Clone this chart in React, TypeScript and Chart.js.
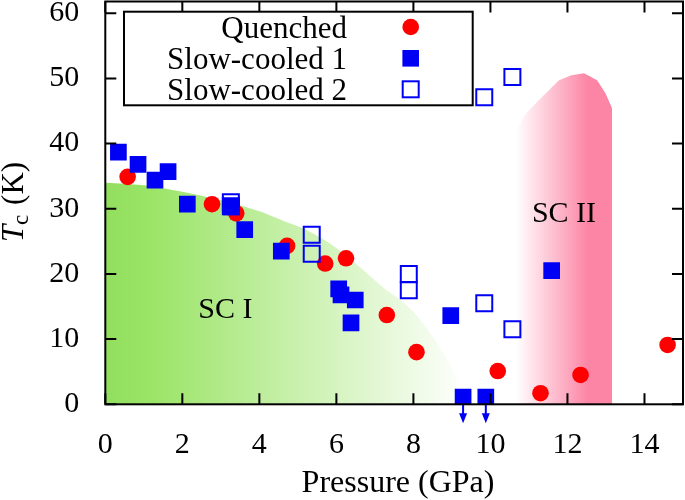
import React, { useEffect, useRef } from 'react';
import { Chart, registerables } from 'chart.js';

Chart.register(...registerables);

const FONT = "'Liberation Serif', 'Times New Roman', serif";

// Axis ticks
const xTickValues = [0, 2, 4, 6, 8, 10, 12, 14];
const yTickValues = [0, 10, 20, 30, 40, 50, 60];

// Series
const seriesLabels = ['Quenched', 'Slow-cooled 1', 'Slow-cooled 2'];

const quenchedP = [0.58, 2.77, 3.40, 4.72, 5.71, 6.25, 7.31, 8.08, 10.19, 11.30, 12.34, 14.60];
const quenchedTc = [34.9, 30.7, 29.3, 24.3, 21.6, 22.4, 13.7, 8.0, 5.1, 1.7, 4.5, 9.1];

const slow1P = [0.34, 0.85, 1.29, 1.63, 2.13, 3.27, 3.62, 4.57, 6.06, 6.12, 6.49, 6.38, 8.97, 9.29, 9.88, 11.59];
const slow1Tc = [38.7, 36.8, 34.4, 35.7, 30.7, 30.3, 26.8, 23.5, 17.7, 16.8, 16.0, 12.5, 13.6, 1.1, 1.1, 20.5];

const slow2P = [3.26, 3.26, 5.36, 5.36, 7.88, 7.88, 9.84, 10.57, 9.84, 10.57];
const slow2Tc = [31.0, 30.4, 26.0, 23.1, 20.0, 17.5, 15.5, 11.5, 47.1, 50.2];

// Upper-limit arrows (points below detection)
const arrowP = [9.29, 9.88];

// SC I region boundary
const scIP = [0, 1, 2, 3, 4, 4.6, 5.2, 5.9, 6.6, 7.2, 7.9, 8.5, 8.93, 9.23, 9.35];
const scITc = [34, 33.6, 32.6, 31.3, 29.6, 28.2, 26.8, 24.4, 21.1, 18.0, 14.8, 10.4, 6.3, 2.2, 0];

// SC II region boundary
const scIIP = [10.66, 10.66, 10.92, 11.26, 11.78, 12.1, 12.43, 12.77, 12.99, 13.16, 13.16];
const scIITc = [0, 42.1, 44.6, 46.7, 49.7, 50.5, 50.8, 49.7, 47.7, 45.4, 0];

const regionNames = ['SC I', 'SC II'];
const regionLabelP = [3.12, 11.91];
const regionLabelTc = [13.2, 28.0];

const zip = (xs: number[], ys: number[]) => xs.map((x, i) => ({ x, y: ys[i] }));

const RED = '#ff0000';
const BLUE = '#0000f5';

// plot frame in canvas pixels
const AREA = { left: 105.3, top: 1.5, right: 683, bottom: 404.3 };

function greenBg(c: any) {
  const chart = c.chart;
  if (!chart.chartArea) return 'rgb(150,226,98)';
  const xs = chart.scales.x;
  const g = chart.ctx.createLinearGradient(xs.getPixelForValue(0), 0, xs.getPixelForValue(9.4), 0);
  g.addColorStop(0, 'rgb(146,222,94)');
  g.addColorStop(0.12, 'rgb(154,228,102)');
  g.addColorStop(1, 'rgb(255,255,255)');
  return g;
}

function pinkBg(c: any) {
  const chart = c.chart;
  if (!chart.chartArea) return 'rgb(252,132,164)';
  const xs = chart.scales.x;
  const g = chart.ctx.createLinearGradient(xs.getPixelForValue(10.66), 0, xs.getPixelForValue(12.55), 0);
  g.addColorStop(0, 'rgb(255,255,255)');
  g.addColorStop(1, 'rgb(252,132,164)');
  return g;
}

function drawMarker(ctx: CanvasRenderingContext2D, kind: number, x: number, y: number) {
  if (kind === 0) {
    ctx.fillStyle = RED;
    ctx.beginPath();
    ctx.arc(x, y, 8.3, 0, Math.PI * 2);
    ctx.fill();
  } else if (kind === 1) {
    ctx.fillStyle = BLUE;
    ctx.fillRect(x - 8.3, y - 8.3, 16.6, 16.6);
  } else {
    ctx.strokeStyle = BLUE;
    ctx.lineWidth = 2;
    ctx.strokeRect(x - 8, y - 8, 16, 16);
  }
}

const overlayPlugin = {
  id: 'overlay',
  afterLayout(chart: any) {
    const a = chart.chartArea;
    a.left = AREA.left;
    a.top = AREA.top;
    a.right = AREA.right;
    a.bottom = AREA.bottom;
    a.width = AREA.right - AREA.left;
    a.height = AREA.bottom - AREA.top;
    const xs = chart.scales.x;
    xs.left = AREA.left;
    xs.right = AREA.right;
    xs.width = AREA.right - AREA.left;
    xs.top = AREA.bottom;
    xs.bottom = chart.height;
    xs.height = chart.height - AREA.bottom;
    xs.configure();
    const ys = chart.scales.y;
    ys.left = 0;
    ys.right = AREA.left;
    ys.width = AREA.left;
    ys.top = AREA.top;
    ys.bottom = AREA.bottom;
    ys.height = AREA.bottom - AREA.top;
    ys.configure();
  },
  afterDatasetsDraw(chart: any) {
    const { ctx, chartArea: a, scales } = chart;
    const xs = scales.x;
    const ys = scales.y;
    ctx.save();

    // arrows
    ctx.strokeStyle = BLUE;
    ctx.fillStyle = BLUE;
    ctx.lineWidth = 2;
    arrowP.forEach((p) => {
      const x = xs.getPixelForValue(p);
      const y0 = ys.getPixelForValue(0);
      ctx.beginPath();
      ctx.moveTo(x, y0);
      ctx.lineTo(x, y0 + 11);
      ctx.stroke();
      ctx.beginPath();
      ctx.moveTo(x - 4, y0 + 9);
      ctx.lineTo(x + 4, y0 + 9);
      ctx.lineTo(x, y0 + 19);
      ctx.closePath();
      ctx.fill();
    });

    // frame
    ctx.strokeStyle = '#000';
    ctx.lineWidth = 2;
    ctx.strokeRect(a.left, a.top, a.right - a.left, a.bottom - a.top);

    // inward ticks on all sides
    const TL = 11;
    ctx.beginPath();
    xTickValues.forEach((v) => {
      const x = xs.getPixelForValue(v);
      ctx.moveTo(x, a.bottom);
      ctx.lineTo(x, a.bottom - TL);
      ctx.moveTo(x, a.top);
      ctx.lineTo(x, a.top + TL);
    });
    yTickValues.forEach((v) => {
      const y = ys.getPixelForValue(v);
      ctx.moveTo(a.left, y);
      ctx.lineTo(a.left + TL, y);
      ctx.moveTo(a.right, y);
      ctx.lineTo(a.right - TL, y);
    });
    ctx.stroke();

    // region labels
    ctx.fillStyle = '#000';
    ctx.font = `30px ${FONT}`;
    ctx.textAlign = 'center';
    ctx.textBaseline = 'alphabetic';
    regionNames.forEach((t, i) => {
      ctx.fillText(t, xs.getPixelForValue(regionLabelP[i]), ys.getPixelForValue(regionLabelTc[i]));
    });

    // legend
    const L = 124, T = 11.7, R = 472.7, B = 105.3;
    ctx.fillStyle = '#fff';
    ctx.fillRect(L, T, R - L, B - T);
    ctx.strokeStyle = '#000';
    ctx.lineWidth = 2;
    ctx.strokeRect(L, T, R - L, B - T);
    const rowY = [27, 58.3, 89.3];
    ctx.font = `31px ${FONT}`;
    ctx.textAlign = 'right';
    ctx.textBaseline = 'alphabetic';
    seriesLabels.forEach((lab, i) => {
      ctx.fillStyle = '#000';
      ctx.fillText(lab, 347, rowY[i] + 10.8);
      drawMarker(ctx, i, 410.7, rowY[i]);
    });

    ctx.restore();
  },
  afterDraw(chart: any) {
    const { ctx } = chart;
    ctx.save();
    ctx.fillStyle = '#000';
    // x title
    ctx.font = `32px ${FONT}`;
    ctx.textAlign = 'center';
    ctx.textBaseline = 'alphabetic';
    ctx.fillText('Pressure (GPa)', 398, 492);

    // y title: T_c (K), rotated
    ctx.translate(23, 202);
    ctx.rotate(-Math.PI / 2);
    ctx.textAlign = 'left';
    const fMain = `31px ${FONT}`;
    const fItal = `italic 31px ${FONT}`;
    const fSub = `23px ${FONT}`;
    ctx.font = fItal;
    const wT = ctx.measureText('T').width;
    ctx.font = fSub;
    const wc = ctx.measureText('c').width;
    ctx.font = fMain;
    const wK = ctx.measureText(' (K)').width;
    const total = wT + wc + 2 + wK;
    let x = -total / 2;
    ctx.font = fItal;
    ctx.fillText('T', x, 0);
    x += wT;
    ctx.font = fSub;
    ctx.fillText('c', x, 5);
    x += wc + 2;
    ctx.font = fMain;
    ctx.fillText(' (K)', x, 0);
    ctx.restore();
  },
};

export default function App() {
  const ref = useRef<HTMLCanvasElement | null>(null);

  useEffect(() => {
    document.body.style.margin = '0';
    const canvas = ref.current;
    if (!canvas) return;

    const chart = new Chart(canvas, {
      type: 'scatter',
      data: {
        datasets: [
          {
            label: seriesLabels[0],
            data: zip(quenchedP, quenchedTc),
            pointStyle: 'circle',
            pointRadius: 8.3,
            backgroundColor: RED,
            borderColor: RED,
            borderWidth: 0,
            order: 3,
          },
          {
            label: seriesLabels[1],
            data: zip(slow1P, slow1Tc),
            pointStyle: 'rect',
            pointRadius: 11.8,
            backgroundColor: BLUE,
            borderColor: BLUE,
            borderWidth: 0,
            order: 2,
          },
          {
            label: seriesLabels[2],
            data: zip(slow2P, slow2Tc),
            pointStyle: 'rect',
            pointRadius: 11.3,
            backgroundColor: 'rgba(0,0,0,0)',
            borderColor: BLUE,
            borderWidth: 2,
            order: 1,
          },
          {
            type: 'line',
            label: 'SC I',
            data: zip(scIP, scITc),
            showLine: true,
            fill: 'origin',
            pointRadius: 0,
            borderWidth: 0,
            borderColor: 'rgba(0,0,0,0)',
            backgroundColor: greenBg,
            cubicInterpolationMode: 'monotone',
            order: 10,
          },
          {
            type: 'line',
            label: 'SC II',
            data: zip(scIIP, scIITc),
            showLine: true,
            fill: 'origin',
            pointRadius: 0,
            borderWidth: 0,
            borderColor: 'rgba(0,0,0,0)',
            backgroundColor: pinkBg,
            tension: 0,
            order: 10,
          },
        ] as any,
      },
      options: {
        responsive: false,
        animation: false,
        events: [],
        layout: { padding: 0 },
        plugins: {
          legend: { display: false },
          tooltip: { enabled: false },
        },
        scales: {
          x: {
            type: 'linear',
            min: 0,
            max: 15,
            grid: { display: false },
            border: { display: false },
            afterBuildTicks: (s: any) => {
              s.ticks = xTickValues.map((v) => ({ value: v }));
            },
            ticks: {
              color: '#000',
              padding: 15,
              font: { family: FONT, size: 30 },
              maxRotation: 0,
              autoSkip: false,
            },
          },
          y: {
            type: 'linear',
            min: 0,
            max: 61.8,
            grid: { display: false },
            border: { display: false },
            afterBuildTicks: (s: any) => {
              s.ticks = yTickValues.map((v) => ({ value: v }));
            },
            ticks: {
              color: '#000',
              padding: 18,
              font: { family: FONT, size: 30 },
              autoSkip: false,
            },
          },
        },
      } as any,
      plugins: [overlayPlugin],
    });

    return () => chart.destroy();
  }, []);

  return (
    <div style={{ width: 685, height: 500, background: '#fff' }}>
      <canvas ref={ref} width={685} height={500} style={{ display: 'block', width: 685, height: 500 }} />
    </div>
  );
}
